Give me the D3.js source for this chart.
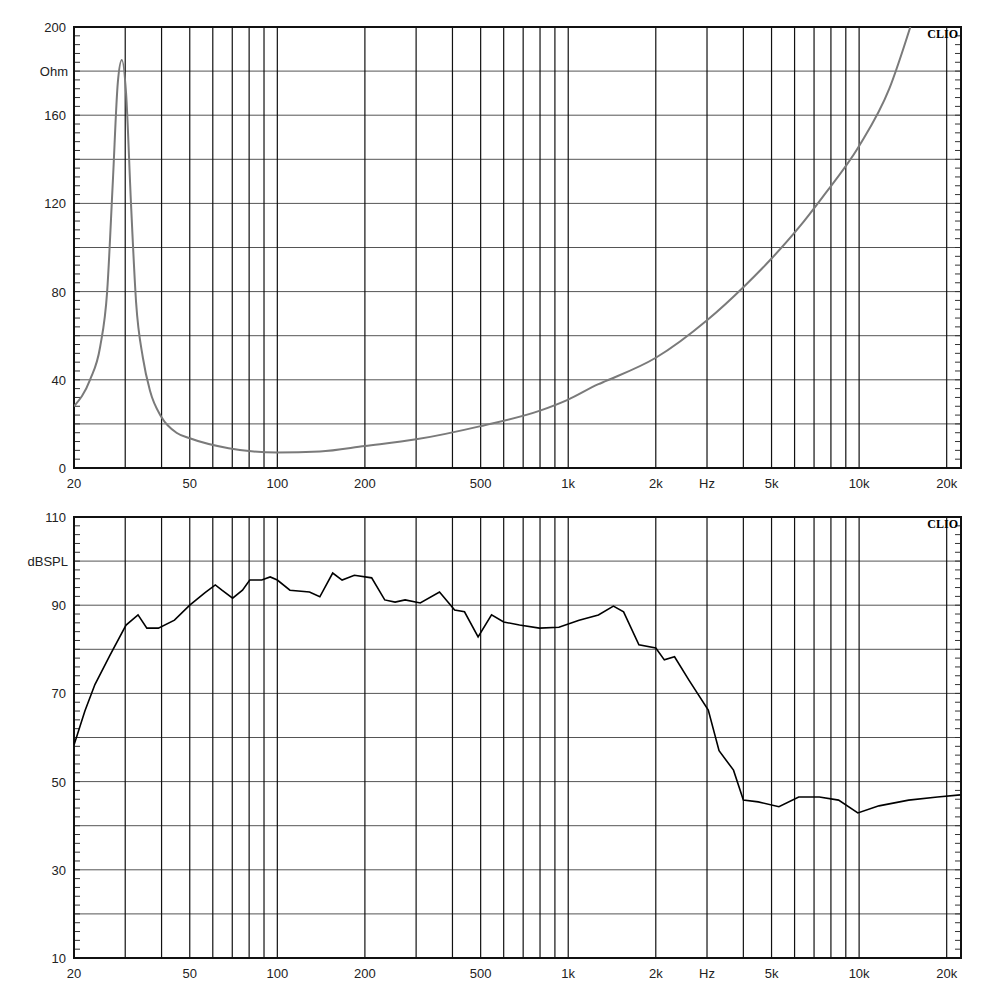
<!DOCTYPE html>
<html>
<head>
<meta charset="utf-8">
<script src="https://cdn.jsdelivr.net/npm/d3@7"></script>
<style>
body { margin: 0; background: #fff; }
svg text { font-family: "Liberation Sans", Arial, sans-serif; font-size: 13px; fill: #222; }
</style>
</head>
<body>
<div id="chart"></div>
<script>
const freqTicks = [20, 50, 100, 200, 500, 1000, 2000, 3000, 5000, 10000, 20000];
const freqLabels = ['20', '50', '100', '200', '500', '1k', '2k', 'Hz', '5k', '10k', '20k'];
const gridFreqs = [30, 40, 50, 60, 70, 80, 90, 100, 200, 300, 400, 500, 600, 700, 800, 900, 1000,
    2000, 3000, 4000, 5000, 6000, 7000, 8000, 9000, 10000, 20000];

const impFreq = [20, 22.7, 24.6, 26, 27.2, 28.3, 29.2, 30.2, 31.4, 32.7, 34.5, 36.5, 40, 45, 50, 68, 100, 140,
    200, 300, 500, 800, 1000, 1270, 1350, 2000, 3000, 4000, 5000, 6200, 7500, 10000, 12700, 15000];
const impOhm = [28, 40, 55, 80, 130, 175, 185, 170, 120, 75, 50, 35, 23, 16, 13.5, 9, 7, 7.5,
    10, 13, 19, 26, 31, 38, 39.5, 50, 67, 82, 95, 109, 123, 146, 172, 200];

const splFreq = [20, 21.8, 23.6, 26.6, 30.2, 33.2, 35.6, 39, 44.3, 50, 56.3, 61.2, 64.5, 70.2, 75.9,
    80.4, 88.4, 94.5, 100, 110.5, 129, 140, 155, 167, 184, 211, 234, 254, 275, 310, 361, 407, 440,
    490, 545, 600, 680, 796, 929, 1090, 1270, 1430, 1550, 1750, 2000, 2140, 2320, 2600, 3030, 3300,
    3700, 4000, 4500, 5300, 6200, 7300, 8500, 9900, 11700, 14800, 18600, 22300];
const splDb = [58.3, 66, 72, 78.7, 85.5, 87.8, 84.8, 84.8, 86.6, 90, 92.8, 94.6, 93.4, 91.6, 93.4,
    95.7, 95.7, 96.4, 95.7, 93.4, 93, 91.9, 97.3, 95.7, 96.8, 96.2, 91.2, 90.7, 91.2, 90.5, 93, 88.9, 88.5,
    82.8, 87.8, 86.2, 85.5, 84.8, 85, 86.6, 87.8, 89.8, 88.5, 81, 80.3, 77.6, 78.3, 73, 66.2, 57,
    52.6, 45.8, 45.4, 44.3, 46.5, 46.5, 45.8, 42.9, 44.5, 45.8, 46.5, 47];

const svg = d3.select('#chart').append('svg').attr('width', 1000).attr('height', 1000);
const x = d3.scaleLog().domain([20, 22400]).range([74, 961]);

function panel(top, bottom, yDomain, yStep, yLabels, unit, unitVal, fx, fy, color, width, curve) {
    const y = d3.scaleLinear().domain(yDomain).range([bottom, top]);
    const g = svg.append('g');
    const clipId = 'clip' + top;
    svg.append('clipPath').attr('id', clipId).append('rect')
        .attr('x', 74).attr('y', top).attr('width', 887).attr('height', bottom - top);

    // horizontal grid
    g.selectAll('.h').data(d3.range(yDomain[0] + yStep, yDomain[1], yStep)).enter().append('line')
        .attr('x1', 74).attr('x2', 961).attr('y1', d => y(d)).attr('y2', d => y(d))
        .attr('stroke', '#555').attr('stroke-width', 1);
    // vertical grid
    g.selectAll('.v').data(gridFreqs).enter().append('line')
        .attr('x1', d => x(d)).attr('x2', d => x(d)).attr('y1', top).attr('y2', bottom)
        .attr('stroke', '#111').attr('stroke-width', 1.2);
    // minor ticks on both sides
    const minor = d3.range(yDomain[0], yDomain[1], yStep / 5);
    g.selectAll('.ml').data(minor).enter().append('line')
        .attr('x1', 74).attr('x2', 80).attr('y1', d => y(d)).attr('y2', d => y(d)).attr('stroke', '#333');
    g.selectAll('.mr').data(minor).enter().append('line')
        .attr('x1', 955).attr('x2', 961).attr('y1', d => y(d)).attr('y2', d => y(d)).attr('stroke', '#333');

    g.append('rect').attr('x', 74).attr('y', top).attr('width', 887).attr('height', bottom - top)
        .attr('fill', 'none').attr('stroke', '#111').attr('stroke-width', 2);

    g.selectAll('.yl').data(yLabels).enter().append('text')
        .attr('x', 66).attr('y', d => y(d) + 5).attr('text-anchor', 'end').text(d => d);
    g.append('text').attr('x', 68).attr('y', y(unitVal) + 5).attr('text-anchor', 'end').text(unit);

    g.selectAll('.xl').data(freqTicks).enter().append('text')
        .attr('x', d => x(d)).attr('y', bottom + 20)
        .attr('text-anchor', 'middle').text((d, i) => freqLabels[i]);

    g.append('text').attr('x', 958).attr('y', top + 11).attr('text-anchor', 'end')
        .style('font-family', '"Liberation Serif", serif').style('font-weight', 'bold')
        .style('font-size', '12px').style('fill', '#000').text('CLIO');

    const line = d3.line().x((d, i) => x(fx[i])).y(d => y(d)).curve(curve);
    g.append('path').datum(fy).attr('d', line).attr('clip-path', `url(#${clipId})`)
        .attr('fill', 'none').attr('stroke', color).attr('stroke-width', width);
}

panel(27, 468, [0, 200], 20, [0, 40, 80, 120, 160, 200], 'Ohm', 180,
    impFreq, impOhm, '#7a7a7a', 2, d3.curveMonotoneX);
panel(517, 958, [10, 110], 10, [10, 30, 50, 70, 90, 110], 'dBSPL', 100,
    splFreq, splDb, '#000', 1.6, d3.curveLinear);
</script>
</body>
</html>
